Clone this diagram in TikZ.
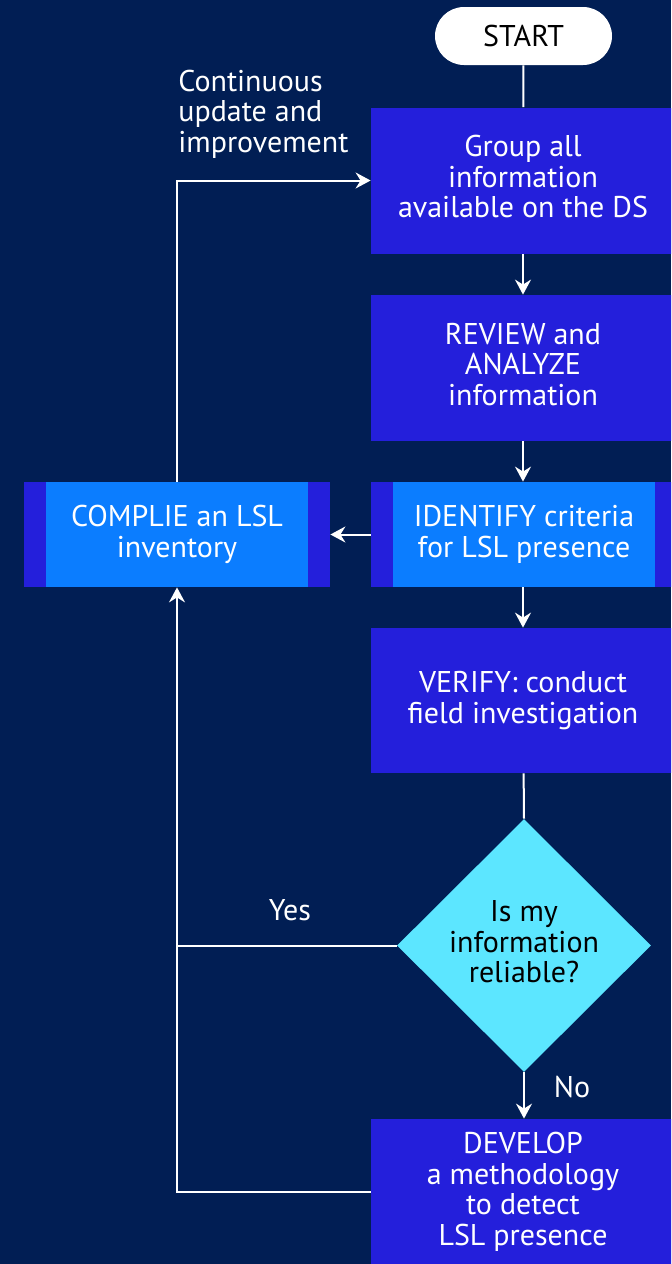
\documentclass[tikz,border=0pt]{standalone}
\usepackage{fontspec}
\setmainfont{PT Sans}
\usepackage{xcolor}
\usetikzlibrary{arrows.meta}
\usetikzlibrary{shapes.geometric}
\usetikzlibrary{math}
\definecolor{qnavy}{RGB}{1,30,84}
\definecolor{qviolet}{RGB}{36,31,219}
\definecolor{qsky}{RGB}{11,125,255}
\definecolor{qcyan}{RGB}{92,230,255}

\tikzset{
 every node/.style={font=\fontsize{15}{15.25}\selectfont, align=center, inner sep=0pt},
 stepbox/.style={fill=qviolet, text=white, minimum width=152pt, minimum height=73pt},
 raised/.style={text depth=4pt},
 sidebox/.style={stepbox, minimum width=153pt, minimum height=52.5pt,
  path picture={\fill[qsky] ([xshift=11pt]path picture bounding box.south west)
   rectangle ([xshift=-11pt]path picture bounding box.north east);}},
 startbox/.style={fill=white, text=black, rounded corners=14.5pt, minimum width=88.5pt, minimum height=29pt},
 askbox/.style={diamond, aspect=1, fill=qcyan, text=black, minimum width=127pt, minimum height=126.5pt, raised},
 link/.style={white, line width=1pt},
 flow/.style={link, -{Stealth[length=7.5pt, width=8pt, inset=2.5pt]}},
 note/.style={text=white}
}

\begin{document}
\begin{tikzpicture}[x=0.5pt, y=-0.5pt]

\tikzmath{
\W = 671;
\H = 1264;
\xr = 523;
\xl = 177;
}
%
\clip (0,0) rectangle (\W,\H);
\fill[qnavy] (0,0) rectangle (\W,\H);

\node[startbox] (start) at (523.5,36) {START};
\node[stepbox, raised] (group) at (\xr,180.5) {Group all\\information\\available on the DS};
\node[stepbox, raised] (review) at (\xr,368) {REVIEW and\\ANALYZE\\information};
\node[sidebox] (identify) at (\xr+1,534.5) {IDENTIFY criteria\\for LSL presence};
\node[sidebox] (compile) at (\xl,534.5) {COMPLIE an LSL\\inventory};
\node[stepbox, minimum height=72.5pt] (verify) at (\xr,700.5) {VERIFY: conduct\\field investigation};
\node[askbox] (reliable) at (\xr+1,945.5) {Is my\\information\\reliable?};
\node[stepbox] (develop) at (\xr,1192) {DEVELOP\\a methodology\\to detect\\LSL presence};

\node[note, anchor=west, align=left] (loop) at (\xl+1,114) {Continuous\\update and\\improvement};
\node[note] (yes) at (290,910) {Yes};
\node[note] (no) at (572,1087) {No};

\draw[link] (start) -- (group);
\draw[flow] (group) -- (review);
\draw[flow] (review) -- (identify.north -| review);
\draw[flow] (identify) -- (compile);
\draw[flow] (identify.south -| review) -- (verify);
\draw[link] (verify) -- (reliable.north);
\draw[flow] (reliable.south) -- (develop.north -| reliable.south);
\draw[flow] (compile) |- (group);
\draw[flow] (develop) -| (compile);
\draw[link] (reliable.west) -- (reliable.west -| compile.south);

\end{tikzpicture}
\end{document}
